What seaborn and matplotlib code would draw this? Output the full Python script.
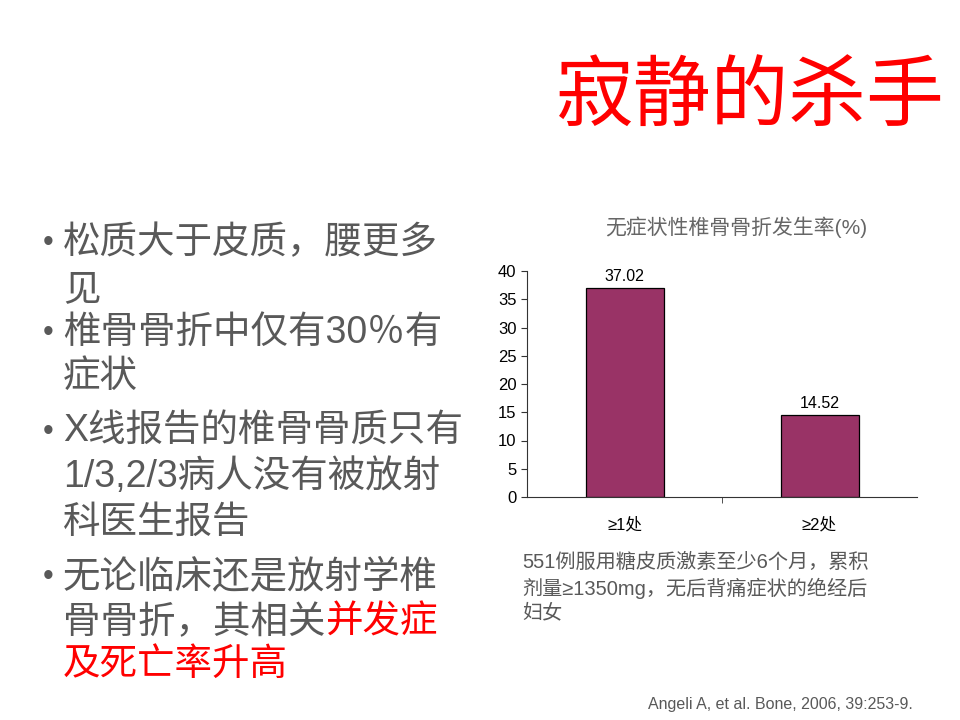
import matplotlib
matplotlib.use("Agg")
import matplotlib.pyplot as plt
import seaborn as sns
import pandas as pd

categories = ["≥1处", "≥2处"]
rates = [37.02, 14.52]
y_ticks = [0, 5, 10, 15, 20, 25, 30, 35, 40]

slide_title = "寂静的杀手"
chart_title = "无症状性椎骨骨折发生率(%)"
note_lines = ["551例服用糖皮质激素至少6个月，累积", "剂量≥1350mg，无后背痛症状的绝经后", "妇女"]
citation = "Angeli A, et al. Bone, 2006, 39:253-9."

sns.set_style("white")
plt.rcParams["font.family"] = ["Liberation Sans", "Noto Sans CJK SC", "DejaVu Sans"]

GRAY = "#595959"
RED = "#FF0000"
BAR = "#993366"

fig = plt.figure(figsize=(9.6, 7.2), dpi=100)
W, H = 960, 720


def fx(px):
    return px / W


def fy(py):
    return 1 - py / H


# slide title
fig.text(fx(750), fy(100), slide_title, color=RED, fontsize=56,
         ha="center", va="center")

# bullet list
bullets = [
    [("松质大于皮质，腰更多", GRAY), ("见", GRAY)],
    [("椎骨骨折中仅有30％有", GRAY), ("症状", GRAY)],
    [("X线报告的椎骨骨质只有", GRAY), ("1/3,2/3病人没有被放射", GRAY), ("科医生报告", GRAY)],
    [("无论临床还是放射学椎", GRAY), ("骨骨折，其相关|并发症", "mixed"), ("及死亡率升高", RED)],
]
line_y = [[243, 290], [333, 377], [432, 477, 523], [577, 623, 665]]

text_x = 63
for lines, ys in zip(bullets, line_y):
    fig.text(fx(48), fy(ys[0]), "•", color=GRAY, fontsize=22, ha="center", va="center")
    for (txt, col), y in zip(lines, ys):
        if col == "mixed":
            a, b = txt.split("|")
            t1 = fig.text(fx(text_x), fy(y), a, color=GRAY, fontsize=27, va="center")
            fig.canvas.draw()
            bb = t1.get_window_extent()
            fig.text(bb.x1 / W, fy(y), b, color=RED, fontsize=27, va="center")
        else:
            fig.text(fx(text_x), fy(y), txt, color=col, fontsize=27, va="center")

# chart
ax = fig.add_axes([fx(527), fy(497), fx(917) - fx(527), fy(271) - fy(497)])
df = pd.DataFrame({"category": categories, "rate": rates})
sns.barplot(data=df, x="category", y="rate", color=BAR, width=0.4,
            edgecolor="black", linewidth=0.9, saturation=1, ax=ax)
ax.set_xlim(-0.5, 1.5)
ax.set_ylim(0, 40)
ax.set_yticks(y_ticks)
ax.set_xlabel("")
ax.set_ylabel("")
for c in ax.containers:
    ax.bar_label(c, labels=[f"{v:.2f}" for v in rates], padding=3, fontsize=11.5,
                 color="black")
sns.despine(ax=ax)
ax.spines["left"].set_color("#333333")
ax.spines["bottom"].set_color("#333333")
ax.tick_params(axis="y", length=4, direction="out", color="#333333", labelsize=12,
               left=True, labelcolor="black")
ax.tick_params(axis="x", which="major", length=0, labelsize=12, pad=14, labelcolor="black")
ax.set_xticks([0.5], minor=True)
ax.tick_params(axis="x", which="minor", length=4, direction="out", color="#333333", bottom=True)

fig.text(fx(736), fy(227), chart_title, color="#666666", fontsize=15, ha="center", va="center")

for line, y in zip(note_lines, [562, 588, 613]):
    fig.text(fx(522), fy(y), line, color=GRAY, fontsize=14.5, va="center")

fig.text(fx(913), fy(705), citation, color=GRAY, fontsize=11.5, ha="right", va="center")

fig.savefig("out.png", dpi=100)
